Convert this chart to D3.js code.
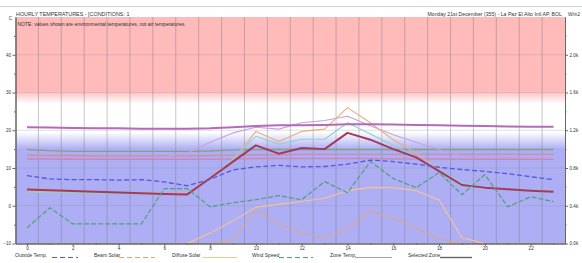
<!DOCTYPE html>
<html>
<head>
<meta charset="utf-8">
<script src="https://cdn.jsdelivr.net/npm/d3@7"></script>
<style>
  body { margin: 0; background: #fff; }
  text { font-family: "Liberation Sans", Arial, sans-serif; fill: #333; }
</style>
</head>
<body>
<div id="chart"></div>
<script>
const svgWidth = 582;
const svgHeight = 263;

const margin = { top: 17, right: 17, bottom: 19.5, left: 15.5 };
const width = svgWidth - margin.left - margin.right;
const height = svgHeight - margin.top - margin.bottom;

// hours of the day
const hours = [0, 1, 2, 3, 4, 5, 6, 7, 8, 9, 10, 11, 12, 13, 14, 15, 16, 17, 18, 19, 20, 21, 22, 23];
const hourLabels = [0, 2, 4, 6, 8, 10, 12, 14, 16, 18, 20, 22];
const tempTicks = [-10, 0, 10, 20, 30, 40];
const tempMinorTicks = [-5, 5, 15, 25, 35, 45];
const solarTicks = [0, 400, 800, 1200, 1600, 2000];
const solarMinorTicks = [200, 600, 1000, 1400, 1800, 2200];

// temperatures (deg C)
const outsideTemp = [8.0, 7.1, 6.9, 6.9, 6.8, 6.9, 6.3, 5.3, 7.0, 9.5, 10.3, 10.7, 10.3, 10.4, 11.0, 12.1, 11.7, 11.0, 10.2, 9.6, 9.1, 8.5, 7.7, 6.9];
const selectedZone = [4.3, 4.1, 3.9, 3.7, 3.5, 3.3, 3.1, 3.0, 7.3, 11.7, 16.0, 13.8, 15.3, 15.0, 19.3, 17.5, 15.0, 12.8, 9.2, 5.5, 4.8, 4.4, 4.0, 3.7];
const zonePurple = [20.8, 20.7, 20.6, 20.5, 20.5, 20.4, 20.4, 20.4, 20.5, 20.8, 21.1, 21.3, 21.3, 21.4, 21.6, 21.6, 21.5, 21.4, 21.3, 21.2, 21.1, 21.0, 20.9, 20.9];
const zoneGreen = [14.9, 14.6, 14.4, 14.4, 14.4, 14.4, 14.4, 14.4, 14.5, 14.8, 14.9, 14.9, 14.9, 14.9, 14.9, 14.9, 14.9, 14.9, 14.9, 14.9, 14.9, 14.9, 14.9, 14.9];
const zonePinkA = [13.4, 13.3, 13.3, 13.2, 13.2, 13.2, 13.2, 13.2, 13.3, 13.4, 13.5, 13.5, 13.6, 13.6, 13.6, 13.6, 13.6, 13.6, 13.6, 13.6, 13.6, 13.6, 13.6, 13.6];
const zonePinkB = [12.4, 12.4, 12.3, 12.3, 12.3, 12.3, 12.3, 12.3, 12.3, 12.4, 12.5, 12.5, 12.5, 12.5, 12.5, 12.5, 12.4, 12.4, 12.4, 12.3, 12.3, 12.3, 12.3, 12.3];
const zoneLilac = [12.9, 12.9, 12.8, 12.8, 12.8, 12.8, 12.9, 14.0, 16.8, 19.3, 20.8, 20.3, 22.0, 22.6, 23.7, 21.2, 18.8, 16.8, 14.9, 13.1, 12.9, 12.8, 12.7, 12.6];
const zoneOrange = [3.9, 3.8, 3.7, 3.6, 3.5, 3.4, 3.3, 3.3, 7.5, 12.0, 19.7, 17.0, 19.7, 20.3, 26.0, 22.0, 17.5, 14.0, 9.5, 5.8, 4.8, 4.3, 4.0, 3.8];
const zoneCyan = [3.6, 3.5, 3.4, 3.3, 3.2, 3.1, 3.0, 3.0, 7.0, 12.5, 18.4, 16.3, 17.6, 17.6, 22.0, 19.0, 16.0, 13.0, 9.5, 6.0, 4.8, 4.3, 3.9, 3.6];

// solar radiation (W/m2) and wind, right axis
const beamSolar = [0, 0, 0, 0, 0, 0, 0, 0, 0, 37, 357, 210, 105, 60, 160, 340, 270, 160, 50, 0, 0, 0, 0, 0];
const diffuseSolar = [0, 0, 0, 0, 0, 0, 0, 0, 110, 240, 385, 415, 445, 480, 560, 595, 590, 560, 460, 60, 0, 0, 0, 0];
const windSpeed = [165, 379, 208, 208, 208, 208, 581, 581, 389, 432, 464, 507, 464, 656, 539, 869, 688, 592, 752, 517, 731, 389, 496, 443];

const svg = d3.select("#chart")
  .append("svg")
  .attr("width", svgWidth)
  .attr("height", svgHeight);

// top rule and headers
svg.append("line")
  .attr("x1", 0).attr("x2", svgWidth)
  .attr("y1", 6.5).attr("y2", 6.5)
  .attr("stroke", "#d0d0d0");

svg.append("text")
  .attr("x", 16).attr("y", 15.5)
  .attr("fill", "#333")
  .style("font-size", "5.4px")
  .text("HOURLY TEMPERATURES - [CONDITIONS: 1");

svg.append("text")
  .attr("x", 562).attr("y", 15.5)
  .attr("text-anchor", "end")
  .attr("fill", "#333")
  .style("font-size", "5.2px")
  .text("Monday 21st December (355) - La Paz El Alto Intl AP, BOL");

svg.append("text")
  .attr("x", 568).attr("y", 16)
  .style("font-size", "4.6px")
  .text("W/m2");

svg.append("text")
  .attr("x", 12).attr("y", 20)
  .attr("text-anchor", "end")
  .style("font-size", "4.6px")
  .text("C");

const chartGroup = svg.append("g")
  .attr("transform", `translate(${margin.left}, ${margin.top})`);

const xScale = d3.scaleLinear().domain([-0.5, 23.5]).range([0, width]);
const yScale = d3.scaleLinear().domain([-10, 50]).range([height, 0]);
const solarScale = d3.scaleLinear().domain([0, 2400]).range([height, 0]);

// background: hot (red) above, comfort (white), cold (blue) below
const off = t => (yScale(t) / height * 100) + "%";
const grad = svg.append("defs").append("linearGradient")
  .attr("id", "bg")
  .attr("x1", 0).attr("y1", 0).attr("x2", 0).attr("y2", 1);
[[0, "#ffbaba"], [off(30.5), "#ffbaba"], [off(27), "#ffffff"],
 [off(19.5), "#ffffff"], [off(15), "#aeaef5"], ["100%", "#aeaef5"]]
  .forEach(s => grad.append("stop").attr("offset", s[0]).attr("stop-color", s[1]));

chartGroup.append("rect")
  .attr("width", width)
  .attr("height", height)
  .attr("fill", "url(#bg)");

// grid
chartGroup.append("g")
  .selectAll("line")
  .data(tempTicks.slice(1))
  .enter()
  .append("line")
  .attr("x1", 0).attr("x2", width)
  .attr("y1", d => yScale(d)).attr("y2", d => yScale(d))
  .attr("stroke", "#8a8a9a")
  .attr("stroke-opacity", 0.35)
  .attr("stroke-width", 0.8);

chartGroup.append("g")
  .selectAll("line")
  .data(hours.slice(1))
  .enter()
  .append("line")
  .attr("x1", d => xScale(d - 0.5)).attr("x2", d => xScale(d - 0.5))
  .attr("y1", 0).attr("y2", height)
  .attr("stroke", "#7a7a8a")
  .attr("stroke-opacity", 0.55)
  .attr("stroke-width", 0.8);

// series
function drawLine(values, scale, color, strokeWidth, dash) {
  const line = d3.line()
    .x((d, i) => xScale(hours[i]))
    .y(d => scale(d));
  chartGroup.append("path")
    .datum(values)
    .attr("fill", "none")
    .attr("stroke", color)
    .attr("stroke-width", strokeWidth)
    .attr("stroke-dasharray", dash || null)
    .attr("stroke-linejoin", "round")
    .attr("d", line);
}

drawLine(zoneGreen, yScale, "#7fa57f", 1.3);
drawLine(zonePinkA, yScale, "#cf8aa8", 1.4);
drawLine(zonePinkB, yScale, "#c58ab8", 1.4);
drawLine(zoneLilac, yScale, "#c6a0dc", 1.1);
drawLine(zoneOrange, yScale, "#e6b07c", 1.1);
drawLine(zoneCyan, yScale, "#8fcfd0", 1.1);
drawLine(zonePurple, yScale, "#b46ab8", 2);
drawLine(selectedZone, yScale, "#a23a5c", 2);
drawLine(outsideTemp, yScale, "#5555e6", 1.3, "5,2.5");
drawLine(diffuseSolar, solarScale, "#f6c48e", 1.1);
drawLine(beamSolar, solarScale, "#f0a458", 1.1, "4,2");
drawLine(windSpeed, solarScale, "#4fa07a", 1.2, "5,2");

// axes
const tickText = g => g.selectAll("text").style("font-size", "4.6px").attr("fill", "#333");
const axisColor = g => g.selectAll("path, line").attr("stroke", "#666");

chartGroup.append("g")
  .call(d3.axisLeft(yScale).tickValues(tempTicks).tickSize(3).tickPadding(1.5).tickSizeOuter(0))
  .call(tickText).call(axisColor);
chartGroup.append("g")
  .call(d3.axisLeft(yScale).tickValues(tempMinorTicks).tickSize(1.5).tickFormat("").tickSizeOuter(0))
  .call(axisColor);

chartGroup.append("g")
  .attr("transform", `translate(${width}, 0)`)
  .call(d3.axisRight(solarScale).tickValues(solarTicks).tickSize(3).tickPadding(1.5)
    .tickFormat(d => (d / 1000).toFixed(1) + "k").tickSizeOuter(0))
  .call(tickText).call(axisColor);
chartGroup.append("g")
  .attr("transform", `translate(${width}, 0)`)
  .call(d3.axisRight(solarScale).tickValues(solarMinorTicks).tickSize(1.5).tickFormat("").tickSizeOuter(0))
  .call(axisColor);

chartGroup.append("g")
  .attr("transform", `translate(0, ${height})`)
  .call(d3.axisBottom(xScale).tickValues(hourLabels).tickSize(2.5).tickPadding(0.5).tickSizeOuter(0))
  .call(tickText).call(axisColor);
chartGroup.append("g")
  .attr("transform", `translate(0, ${height})`)
  .call(d3.axisBottom(xScale).tickValues(hours.filter(h => h % 2)).tickSize(1.5).tickFormat("").tickSizeOuter(0))
  .call(axisColor);

// note inside the plot
chartGroup.append("text")
  .attr("x", 2).attr("y", 8.5)
  .attr("fill", "#333")
  .style("font-size", "5px")
  .text("NOTE: values shown are environmental temperatures, not air temperatures.");

// legend
const legendItems = [
  { label: "Outside Temp.", x: 15, lx: 52, lw: 26, color: "#5555e6", w: 1.2, dash: "5,3" },
  { label: "Beam Solar", x: 94, lx: 119, lw: 36, color: "#f0a458", w: 1.1, dash: "5,3" },
  { label: "Diffuse Solar", x: 172, lx: 202, lw: 35, color: "#f6c48e", w: 1 },
  { label: "Wind Speed", x: 252, lx: 279, lw: 34, color: "#4fa07a", w: 1.1, dash: "5,3" },
  { label: "Zone Temp.", x: 330, lx: 355, lw: 37, color: "#999999", w: 0.9 },
  { label: "Selected Zone", x: 408, lx: 440, lw: 32, color: "#666666", w: 1.4 }
];

const legend = svg.append("g");
legendItems.forEach(d => {
  legend.append("text")
    .attr("x", d.x).attr("y", 257)
    .attr("fill", "#444")
    .style("font-size", "5px")
    .text(d.label);
  legend.append("line")
    .attr("x1", d.lx).attr("x2", d.lx + d.lw)
    .attr("y1", 257.5).attr("y2", 257.5)
    .attr("stroke", d.color)
    .attr("stroke-width", d.w)
    .attr("stroke-dasharray", d.dash || null);
});
</script>
</body>
</html>
